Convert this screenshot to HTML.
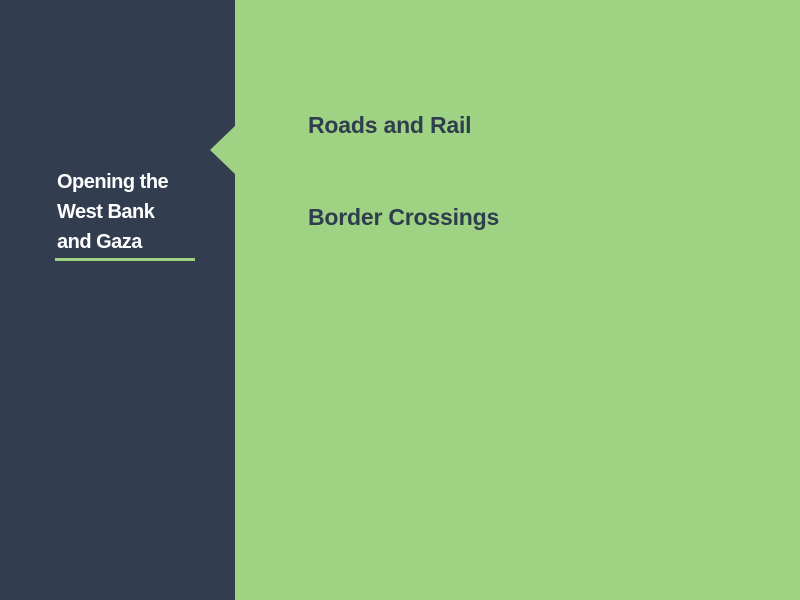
<!DOCTYPE html>
<html><head><style>
html,body{margin:0;padding:0;}
body{width:800px;height:600px;background:#a0d283;position:relative;overflow:hidden;font-family:"Liberation Sans",sans-serif;}
#left{position:absolute;left:0;top:0;width:235px;height:600px;background:#323d4f;}
#notch{position:absolute;left:210px;top:126px;width:0;height:0;border-top:24px solid transparent;border-bottom:24px solid transparent;border-right:25px solid #a0d283;}
.lt{position:absolute;left:57px;color:#fff;font-weight:bold;font-size:20px;letter-spacing:-0.5px;line-height:30px;}
#ul{position:absolute;left:55px;top:258px;width:140px;height:3px;background:#a0d283;}
.rt{position:absolute;left:308px;color:#2f3e4e;font-weight:bold;font-size:23px;letter-spacing:-0.2px;}
</style></head><body>
<div id="left"></div>
<div id="notch"></div>
<div class="lt" style="top:167px">Opening the<br>West Bank<br>and Gaza</div>
<div id="ul"></div>
<div class="rt" style="top:112px">Roads and Rail</div>
<div class="rt" style="top:204px">Border Crossings</div>
</body></html>
